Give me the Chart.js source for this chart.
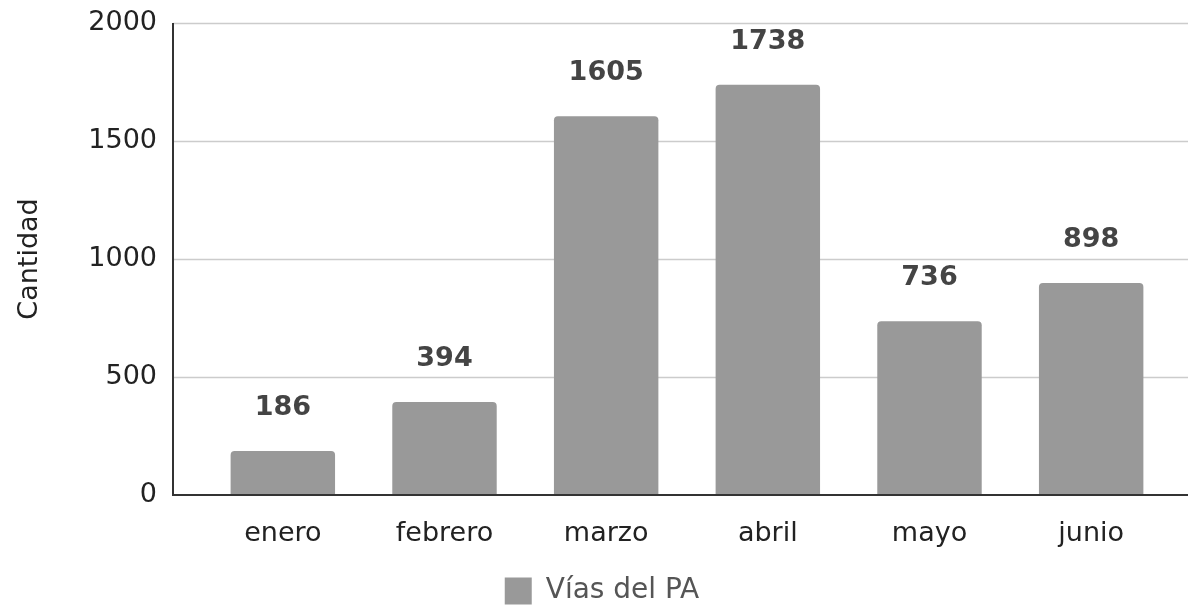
<!DOCTYPE html>
<html>
<head>
<meta charset="utf-8">
<script src="https://cdn.jsdelivr.net/npm/chart.js@4/dist/chart.umd.min.js"></script>
<style>
    html, body { margin: 0; padding: 0; background: #fff; }
    #wrap { width: 1188px; height: 608px; }
</style>
</head>
<body>
<div id="wrap"><canvas id="chart"></canvas></div>
<script>
    // Data
    var months = ["enero", "febrero", "marzo", "abril", "mayo", "junio"];
    var cantidad = [186, 394, 1605, 1738, 736, 898];
    var yTicks = [0, 500, 1000, 1500, 2000];

    var FONT = "'DejaVu Sans', Verdana, sans-serif";
    var AXIS_LEFT = 173;

    // Gridlines and axis lines that run past the bar area
    var frame = {
        id: "frame",
        afterLayout: function (chart) {
            // nudge the legend a bit to the right, like the original
            chart.legend.left += 16;
            chart.legend.right += 16;
        },
        beforeDatasetsDraw: function (chart) {
            var ctx = chart.ctx, y = chart.scales.y, right = chart.width;
            ctx.save();
            ctx.strokeStyle = "#cccccc";
            ctx.lineWidth = 1.5;
            yTicks.forEach(function (v) {
                if (v === 0) return;
                var py = Math.round(y.getPixelForValue(v)) + 0.5;
                ctx.beginPath();
                ctx.moveTo(AXIS_LEFT, py);
                ctx.lineTo(right, py);
                ctx.stroke();
            });
            ctx.restore();
        },
        afterDatasetsDraw: function (chart) {
            var ctx = chart.ctx, y = chart.scales.y, right = chart.width;
            var top = y.getPixelForValue(2000), base = y.getPixelForValue(0);
            ctx.save();
            ctx.strokeStyle = "#333333";
            ctx.lineWidth = 2;
            ctx.beginPath();
            ctx.moveTo(AXIS_LEFT, top);
            ctx.lineTo(AXIS_LEFT, base);
            ctx.lineTo(right, base);
            ctx.stroke();

            // value labels above bars
            ctx.fillStyle = "#444444";
            ctx.font = "bold 27px " + FONT;
            ctx.textAlign = "center";
            ctx.textBaseline = "alphabetic";
            chart.getDatasetMeta(0).data.forEach(function (bar, i) {
                ctx.fillText(String(cantidad[i]), bar.x, bar.y - 36);
            });
            ctx.restore();
        }
    };

    new Chart(document.getElementById("chart"), {
        type: "bar",
        data: {
            labels: months,
            datasets: [{
                label: "Vías del PA",
                data: cantidad,
                backgroundColor: "#999999",
                borderRadius: { topLeft: 4, topRight: 4 },
                borderSkipped: false,
                categoryPercentage: 0.646,
                barPercentage: 1
            }]
        },
        options: {
            responsive: true,
            maintainAspectRatio: false,
            animation: false,
            layout: { padding: { top: 23, right: 16, left: 0, bottom: -7 } },
            plugins: {
                tooltip: { enabled: false },
                legend: {
                    position: "bottom",
                    labels: {
                        color: "#555555",
                        font: { family: FONT, size: 28 },
                        boxWidth: 27,
                        boxHeight: 27,
                        padding: 6
                    }
                }
            },
            scales: {
                x: {
                    afterFit: function (scale) {
                        scale.height = 76;
                        scale.paddingLeft = 0;
                        scale.paddingRight = 0;
                    },
                    grid: { display: false },
                    border: { display: false },
                    ticks: {
                        color: "#222222",
                        font: { family: FONT, size: 27 },
                        padding: 15,
                        maxRotation: 0
                    }
                },
                y: {
                    min: 0,
                    max: 2000,
                    afterFit: function (scale) {
                        scale.width = 202;
                        scale.paddingTop = 0;
                        scale.paddingBottom = 0;
                    },
                    afterBuildTicks: function (scale) {
                        scale.ticks = yTicks.map(function (v) { return { value: v }; });
                    },
                    grid: { display: false, drawTicks: false },
                    border: { display: false },
                    ticks: {
                        color: "#222222",
                        font: { family: FONT, size: 27 },
                        padding: 45,
                        callback: function (v) { return String(v); }
                    },
                    title: {
                        display: true,
                        text: "Cantidad",
                        color: "#222222",
                        font: { family: FONT, size: 27 },
                        padding: { top: 14, bottom: 0 }
                    }
                }
            }
        },
        plugins: [frame]
    });
</script>
</body>
</html>
